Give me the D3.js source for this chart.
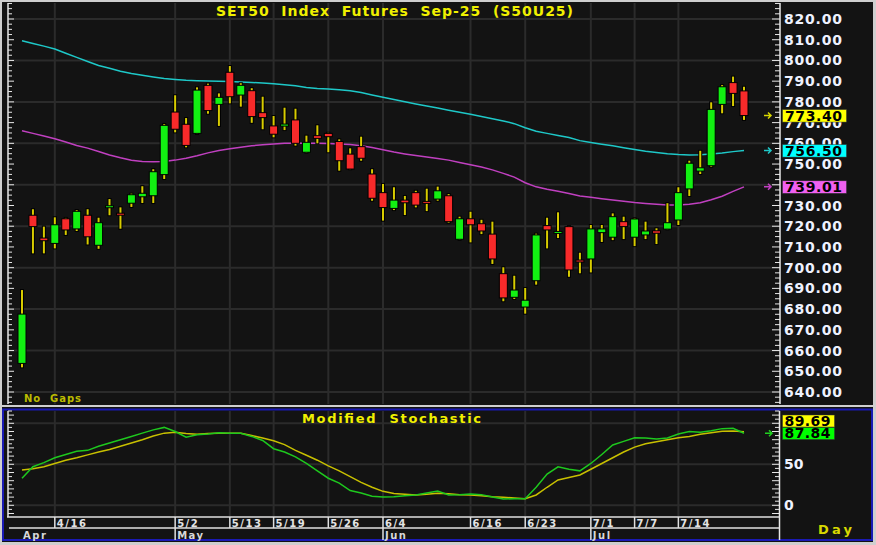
<!DOCTYPE html>
<html><head><meta charset="utf-8">
<script src="https://cdn.jsdelivr.net/npm/d3@7"></script>
<style>html,body{margin:0;padding:0;background:#cfcfcf;overflow:hidden}svg{display:block}</style>
</head><body><svg id="c" width="876" height="545"></svg>
<script>
// ---------- DATA ----------
const opens  = [653.8,725.3,714.3,711.7,723.6,718.7,725.3,710.8,729.0,726.2,731.1,734.2,734.7,744.9,775.1,769.2,764.8,788.0,778.8,794.3,783.3,785.4,774.8,768.4,768.3,771.3,755.7,763.7,764.8,760.9,754.8,758.4,745.2,736.2,728.6,732.6,736.2,731.7,733.1,734.7,713.7,723.6,721.2,716.2,697.1,685.7,681.0,693.7,720.3,716.8,719.8,703.4,704.2,716.9,714.7,722.2,714.7,715.8,717.8,718.6,723.0,738.0,746.6,749.2,778.8,789.3,785.3];
const highs  = [689.2,728.2,719.8,724.3,724.0,727.8,728.2,724.1,733.1,729.1,735.7,739.3,747.5,769.3,783.2,772.2,787.0,788.8,784.1,797.3,789.0,786.6,782.5,773.2,777.2,776.7,763.7,768.7,765.1,761.9,757.6,763.2,747.5,740.4,738.8,734.6,737.1,738.1,739.1,735.5,724.6,727.0,723.1,722.2,700.2,696.1,690.2,716.4,724.1,726.7,720.0,707.2,720.6,720.6,726.2,724.6,723.8,722.2,719.0,731.1,738.8,751.6,756.4,779.8,788.1,792.2,787.3];
const lows   = [651.9,706.9,706.9,709.3,715.8,717.7,711.2,709.1,725.3,718.8,729.3,731.2,731.2,742.8,765.3,758.1,764.5,774.3,768.4,779.3,777.7,769.9,766.8,762.9,766.4,758.9,755.5,760.0,755.7,746.8,747.5,751.6,732.3,722.7,727.8,725.4,729.1,727.3,732.3,721.7,713.5,712.2,716.2,701.8,683.8,684.9,677.8,691.8,709.3,714.3,695.6,697.3,697.7,712.4,713.3,713.8,710.4,713.8,711.4,718.5,720.6,734.6,745.2,748.7,774.5,778.0,771.3];
const closes = [677.6,719.8,713.0,720.7,718.2,727.2,714.9,721.7,729.8,725.4,735.2,735.9,746.3,768.7,766.8,759.0,785.7,775.8,782.2,782.5,788.0,772.9,772.4,764.4,769.3,760.0,760.5,762.4,763.2,751.6,747.6,752.8,733.5,729.0,732.6,731.3,730.2,731.3,737.1,722.2,723.6,720.7,717.7,704.2,685.4,689.2,684.3,715.8,718.2,717.2,698.9,703.0,718.7,718.7,724.6,719.8,723.5,717.7,716.6,721.7,736.2,750.4,748.2,776.4,787.3,784.1,773.4];
const maCyan = [809.5,808.2,806.9,805.5,803.5,801.5,799.5,797.6,796.2,794.8,793.7,792.8,792.0,791.3,790.8,790.4,790.2,790.1,790.0,789.8,789.6,789.4,789.1,788.8,788.3,787.8,787.0,786.5,786.2,785.8,785.4,784.5,783.3,782.2,781.1,780.1,779.0,778.0,777.0,776.0,775.0,774.0,773.0,771.9,770.8,769.5,767.5,765.8,764.8,763.8,762.8,761.3,760.4,759.6,758.8,757.9,757.0,756.2,755.6,755.0,754.6,754.4,754.5,754.8,755.3,756.0,756.5];
const maMagenta = [766.1,764.8,763.5,762.2,760.6,759.0,757.7,756.1,754.4,753.0,751.8,751.2,751.1,751.2,751.9,752.8,754.0,755.4,756.5,757.4,758.1,758.8,759.3,759.7,760.0,760.1,760.1,760.0,759.9,759.7,759.4,758.8,758.0,756.9,755.8,754.9,754.1,753.4,752.7,751.9,750.8,749.7,748.6,747.2,745.5,743.7,741.0,739.0,737.8,736.9,735.8,734.6,734.0,733.3,732.6,732.0,731.4,731.0,730.6,730.3,730.2,730.6,731.3,732.8,734.5,736.8,739.01];
const stochK = [33,47,52,58,62,66,67,72,76,80,84,88,92,95,90,83,86,87,88.5,88,87.8,84,79,69,65,59,51,42,33,27,18,15,11,10,10.5,11.5,12.6,15,17.5,12.6,13,13.8,13,10,7.7,8,8,22,38,47,44,42,51,62,73.5,78,82.4,82,81,82,87,90,89,91,93.5,94,87.84];
const stochD = [43,44.5,47,51,55,58,61.5,65,68,72,76,80,84.5,88,89,87.5,86.6,87.5,87.8,87.8,87.8,85,82,78.8,74,67,61,55,48,42,35,28,22,17,14.5,13.5,12.6,13.5,14.6,14,13,12.6,11.5,10.5,9.8,9,8,12.6,22,30.9,34,37,44,51,58,65,71,75,77.5,80,82.4,84,86.6,88.5,90.3,90.6,89.69];
const dateTickIdx = [3,14,19,23,28,33,41,46,52,56,60];
const dateTickLabels = ["4/16","5/2","5/13","5/19","5/26","6/4","6/16","6/23","7/1","7/7","7/14"];
const monthIdx = [0,14,33,52];
const monthLabels = ["Apr","May","Jun","Jul"];
const priceTicks = [640,650,660,670,680,690,700,710,720,730,750,760,770,780,790,800,810,820];
const stochTicks = [0, 50];
const titleText = "SET50  Index  Futures  Sep-25  (S50U25)";
const lastCyan = 756.50, lastMagenta = 739.01, lastClose = 773.40;
const lastK = 87.84, lastD = 89.69;

// ---------- SCALES ----------
const svg = d3.select("#c");
const FONT = "DejaVu Sans, Verdana, sans-serif";
const x = d3.scaleLinear().domain([0, opens.length - 1]).range([22, 744]);
const yP = d3.scaleLinear().domain([640, 820]).range([392, 19]);
const yS = d3.scaleLinear().domain([0, 100]).range([505.3, 423.3]);

// ---------- FRAMES ----------
svg.append("rect").attr("x",0).attr("y",0).attr("width",876).attr("height",545).attr("fill","#cfcfcf");
svg.append("rect").attr("x",2).attr("y",2).attr("width",871).attr("height",403).attr("fill","#131313");
svg.append("rect").attr("x",2).attr("y",407).attr("width",871).attr("height",135).attr("fill","#131313");
svg.append("rect").attr("x",3).attr("y",409.5).attr("width",869).attr("height",130.5)
  .attr("fill","none").attr("stroke","#1a1ab4").attr("stroke-width",2);

const grid = "#2b2b2b";
// ---------- TOP PANEL GRID ----------
const gTop = svg.append("g");
gTop.selectAll("line.hg").data(d3.range(640, 821, 20)).join("line")
  .attr("x1",9).attr("x2",779).attr("y1",d=>yP(d)).attr("y2",d=>yP(d))
  .attr("stroke",grid).attr("stroke-width",2);
gTop.selectAll("line.vg").data(dateTickIdx).join("line")
  .attr("x1",d=>x(d)).attr("x2",d=>x(d)).attr("y1",3).attr("y2",404)
  .attr("stroke",grid).attr("stroke-width",2);

// axes lines + ticks
const minorP = d3.range(635, 828, 2.5);
gTop.append("line").attr("x1",8).attr("x2",8).attr("y1",3).attr("y2",404).attr("stroke","#e8e8e8").attr("stroke-width",1.5);
gTop.append("line").attr("x1",780).attr("x2",780).attr("y1",3).attr("y2",404).attr("stroke","#e8e8e8").attr("stroke-width",1.5);
gTop.selectAll("line.lt").data(minorP).join("line")
  .attr("x1",8).attr("x2",d=>d%10===0?14:12).attr("y1",d=>yP(d)).attr("y2",d=>yP(d))
  .attr("stroke","#e8e8e8").attr("stroke-width",1);
gTop.selectAll("line.rt").data(minorP).join("line")
  .attr("x1",780).attr("x2",d=>d%10===0?772:775).attr("y1",d=>yP(d)).attr("y2",d=>yP(d))
  .attr("stroke","#e8e8e8").attr("stroke-width",1);

// price labels
gTop.selectAll("text.pl").data(priceTicks).join("text")
  .attr("x",784).attr("y",d=>yP(d)+5).attr("font-family",FONT).attr("font-weight","bold")
  .attr("font-size",14).attr("fill","#eef2ff").attr("textLength",58).attr("lengthAdjust","spacing")
  .text(d=>d.toFixed(2));

// ---------- MOVING AVERAGES ----------
const lineP = arr => d3.line().x((d,i)=>x(i)).y(d=>yP(d))(arr);
gTop.append("path").attr("d",lineP(maCyan)).attr("fill","none").attr("stroke","#1ec8c8").attr("stroke-width",1.5);
gTop.append("path").attr("d",lineP(maMagenta)).attr("fill","none").attr("stroke","#c040c0").attr("stroke-width",1.5);

// ---------- CANDLES ----------
const idx = d3.range(opens.length);
const cg = gTop.append("g");
cg.selectAll("rect.wb").data(idx).join("rect")
  .attr("x",i=>x(i)-2).attr("width",4).attr("y",i=>yP(highs[i])-1)
  .attr("height",i=>yP(lows[i])-yP(highs[i])+2).attr("fill","#000");
cg.selectAll("rect.w").data(idx).join("rect")
  .attr("x",i=>x(i)-1).attr("width",2).attr("y",i=>yP(highs[i]))
  .attr("height",i=>yP(lows[i])-yP(highs[i])).attr("fill","#d8cc00");
cg.selectAll("rect.b").data(idx).join("rect")
  .attr("x",i=>x(i)-4).attr("width",8)
  .attr("y",i=>{const t=yP(Math.max(opens[i],closes[i])), b=yP(Math.min(opens[i],closes[i])); return (b-t<2)?(t+b)/2-1:t;})
  .attr("height",i=>Math.max(2, yP(Math.min(opens[i],closes[i]))-yP(Math.max(opens[i],closes[i]))))
  .attr("fill",i=>closes[i]>=opens[i]?"#12f012":"#f82a2a")
  .attr("stroke","#000").attr("stroke-width",1);

// value boxes
const arrows = [[lastClose,"#ffff00","#d8d800"],[lastCyan,"#00ffff","#1ec8c8"],[lastMagenta,"#f060f0","#c040c0"]];
arrows.forEach(([v,bg,ac])=>{
  const yy = yP(v);
  gTop.append("path").attr("d",`M764,${yy}H771M768,${yy-3}L771,${yy}L768,${yy+3}`)
    .attr("fill","none").attr("stroke",ac).attr("stroke-width",1.5);
  gTop.append("rect").attr("x",782.5).attr("y",yy-6).attr("width",64).attr("height",12.5)
    .attr("fill",bg).attr("stroke","#333").attr("stroke-width",0.5);
  gTop.append("text").attr("x",785).attr("y",yy+5).attr("font-family",FONT).attr("font-weight","bold")
    .attr("font-size",14).attr("fill","#000").attr("textLength",57).attr("lengthAdjust","spacing")
    .text(v.toFixed(2));
});

// title and note
svg.append("text").attr("x",216).attr("y",16).attr("font-family",FONT).attr("font-weight","bold")
  .attr("font-size",14).attr("fill","#f0f000").attr("textLength",357).attr("lengthAdjust","spacing")
  .attr("xml:space","preserve").style("white-space","pre").text(titleText);
svg.append("text").attr("x",24).attr("y",402).attr("font-family",FONT).attr("font-weight","bold")
  .attr("font-size",10).attr("fill","#bcbc00").attr("textLength",57).attr("lengthAdjust","spacing")
  .style("white-space","pre").text("No  Gaps");

// ---------- STOCHASTIC PANEL ----------
const gS = svg.append("g");
gS.selectAll("line.hg").data([0,50,100]).join("line")
  .attr("x1",9).attr("x2",779).attr("y1",d=>yS(d)).attr("y2",d=>yS(d))
  .attr("stroke",grid).attr("stroke-width",2);
gS.selectAll("line.vg").data(dateTickIdx).join("line")
  .attr("x1",d=>x(d)).attr("x2",d=>x(d)).attr("y1",411).attr("y2",516)
  .attr("stroke",grid).attr("stroke-width",2);
const minorS = d3.range(-10, 116, 5);
gS.append("line").attr("x1",8).attr("x2",8).attr("y1",411).attr("y2",517).attr("stroke","#e8e8e8").attr("stroke-width",1.5);
gS.append("line").attr("x1",779.5).attr("x2",779.5).attr("y1",411).attr("y2",540).attr("stroke","#e8e8e8").attr("stroke-width",1.5);
gS.selectAll("line.lt").data(minorS).join("line")
  .attr("x1",8).attr("x2",d=>d%10===0?14:12).attr("y1",d=>yS(d)).attr("y2",d=>yS(d))
  .attr("stroke","#e8e8e8").attr("stroke-width",1);
gS.selectAll("line.rt").data(minorS).join("line")
  .attr("x1",779.5).attr("x2",d=>d%10===0?772:775).attr("y1",d=>yS(d)).attr("y2",d=>yS(d))
  .attr("stroke","#e8e8e8").attr("stroke-width",1);
gS.selectAll("text.sl").data(stochTicks).join("text")
  .attr("x",784).attr("y",d=>yS(d)+5).attr("font-family",FONT).attr("font-weight","bold")
  .attr("font-size",14).attr("fill","#eef2ff").text(d=>d);

const lineS = arr => d3.line().x((d,i)=>x(i)).y(d=>yS(d))(arr);
gS.append("path").attr("d",lineS(stochD)).attr("fill","none").attr("stroke","#c8c000").attr("stroke-width",1.5);
gS.append("path").attr("d",lineS(stochK)).attr("fill","none").attr("stroke","#1ec81e").attr("stroke-width",1.5);

svg.append("text").attr("x",302).attr("y",423).attr("font-family",FONT).attr("font-weight","bold")
  .attr("font-size",13).attr("fill","#f0f000").attr("textLength",179).attr("lengthAdjust","spacing")
  .style("white-space","pre").text("Modified  Stochastic");

// stoch value boxes
const ky = yS(lastK);
gS.append("path").attr("d",`M765,${ky}H772M769,${ky-3}L772,${ky}L769,${ky+3}`)
  .attr("fill","none").attr("stroke","#20d020").attr("stroke-width",1.5);
gS.append("rect").attr("x",782.5).attr("y",415).attr("width",52).attr("height",12).attr("fill","#ffff00").attr("stroke","#333").attr("stroke-width",0.5);
gS.append("text").attr("x",784.5).attr("y",425.5).attr("font-family",FONT).attr("font-weight","bold")
  .attr("font-size",14).attr("fill","#000").attr("textLength",46).attr("lengthAdjust","spacing").text(lastD.toFixed(2));
gS.append("rect").attr("x",782.5).attr("y",427.5).attr("width",52).attr("height",12).attr("fill","#00ff00").attr("stroke","#333").attr("stroke-width",0.5);
gS.append("text").attr("x",784.5).attr("y",438).attr("font-family",FONT).attr("font-weight","bold")
  .attr("font-size",14).attr("fill","#000").attr("textLength",46).attr("lengthAdjust","spacing").text(lastK.toFixed(2));

// ---------- DATE AXIS ----------
const gA = svg.append("g");
gA.append("line").attr("x1",7).attr("x2",779.5).attr("y1",517).attr("y2",517).attr("stroke","#e0e0e0").attr("stroke-width",1.5);
gA.append("line").attr("x1",9).attr("x2",779.5).attr("y1",528).attr("y2",528).attr("stroke","#e0e0e0").attr("stroke-width",1.5);
gA.selectAll("line.dt").data(dateTickIdx).join("line")
  .attr("x1",d=>x(d)).attr("x2",d=>x(d)).attr("y1",517).attr("y2",d=>monthIdx.includes(d)?540:528)
  .attr("stroke","#e0e0e0").attr("stroke-width",1.5);
gA.selectAll("text.dt").data(dateTickIdx).join("text")
  .attr("x",d=>x(d)+2).attr("y",527).attr("font-family",FONT).attr("font-weight","bold")
  .attr("font-size",10).attr("letter-spacing",1.5).attr("fill","#e4e4e4")
  .text((d,i)=>dateTickLabels[i]);
gA.selectAll("text.mt").data(monthIdx).join("text")
  .attr("x",d=>x(d)+(d===0?1:2)).attr("y",538.5).attr("font-family",FONT).attr("font-weight","bold")
  .attr("font-size",10).attr("letter-spacing",1.5).attr("fill","#d8d8d8")
  .text((d,i)=>monthLabels[i]);
svg.append("text").attr("x",818).attr("y",533.5).attr("font-family",FONT).attr("font-weight","bold")
  .attr("font-size",13).attr("fill","#d8d800").attr("textLength",34).attr("lengthAdjust","spacing").text("Day");
</script></body></html>
